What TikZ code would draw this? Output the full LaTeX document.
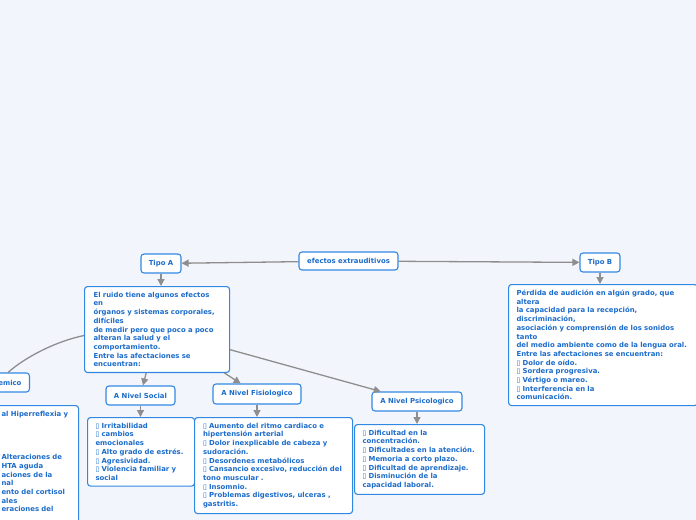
\documentclass[tikz,border=0pt]{standalone}
\usepackage{fontspec}
\setmainfont{DejaVu Sans}
\newfontfamily\symfont{DejaVu Sans}
\usetikzlibrary{arrows.meta}
\definecolor{bgc}{HTML}{F3F5FC}
\definecolor{txtc}{HTML}{1C6CCB}
\definecolor{bordc}{HTML}{3188E3}
\definecolor{connc}{HTML}{8E8E8E}
\newcommand{\bxg}{{\symfont\mdseries ▯}}
\begin{document}
\begin{tikzpicture}[x=1bp,y=-1bp,
  lbl/.style={draw=bordc, line width=1.1bp, fill=white, rounded corners=3bp, text=txtc,
    font=\fontsize{6.9bp}{8.7bp}\selectfont\bfseries, inner sep=0pt},
  desc/.style={lbl, anchor=north west, align=left, inner xsep=8bp, inner ysep=5.5bp},
  conn/.style={draw=connc, line width=1.3bp, -{Triangle[length=7bp,width=7bp]}},
  connplain/.style={draw=connc, line width=1.3bp}
]
\fill[bgc] (0,0) rectangle (696,520);
\useasboundingbox (0,0) rectangle (696,520);

% top level
\node[lbl, minimum width=99bp, minimum height=18bp] (root) at (348.5,261) {efectos extrauditivos};
\node[lbl, minimum width=40bp, minimum height=19bp] (tipoA) at (161,263.5) {Tipo A};
\node[lbl, minimum width=40bp, minimum height=19bp] (tipoB) at (600,262.5) {Tipo B};

% descriptions
\node[desc, inner xsep=9bp, text width=127bp] (descA) at (84,286) {El ruido tiene algunos efectos\\ en\\ órganos y sistemas corporales,\\ difíciles\\ de medir pero que poco a poco\\ alteran la salud y el\\ comportamiento.\\ Entre las afectaciones se\\ encuentran:};

\node[desc, text width=173bp] (descB) at (508,284) {Pérdida de audición en algún grado, que\\ altera\\ la capacidad para la recepción,\\ discriminación,\\ asociación y comprensión de los sonidos\\ tanto\\ del medio ambiente como de la lengua oral.\\ Entre las afectaciones se encuentran:\\ \bxg{} Dolor de oído.\\ \bxg{} Sordera progresiva.\\ \bxg{} Vértigo o mareo.\\ \bxg{} Interferencia en la\\ comunicación.};

% second level labels
\node[lbl, anchor=east, align=right, text width=60bp, inner xsep=8bp, minimum height=19bp] (sist) at (30,382.5) {emico};
\node[lbl, minimum width=69bp, minimum height=19bp] (social) at (140.5,395.5) {A Nivel Social};
\node[lbl, minimum width=88bp, minimum height=20bp] (fisio) at (257,394) {A Nivel Fisiologico};
\node[lbl, minimum width=90bp, minimum height=19bp] (psico) at (417,401.5) {A Nivel Psicologico};

% second level descriptions
\node[desc, inner xsep=9bp, text width=68bp] (descS) at (-8,405) {al Hiperreflexia y\\ \mbox{}\\ \mbox{}\\ \mbox{}\\ \mbox{}\\ Alteraciones de\\ HTA aguda\\ aciones de la\\ nal\\ ento del cortisol\\ ales\\ eraciones del\\ \mbox{}\\ \mbox{}\\ \mbox{}};

\node[desc, text width=91bp] (descSoc) at (87,417) {\bxg{} Irritabilidad\\ \bxg{} cambios\\ emocionales\\ \bxg{} Alto grado de estrés.\\ \bxg{} Agresividad.\\ \bxg{} Violencia familiar y\\ social};

\node[desc, inner xsep=8.5bp, text width=141bp] (descFis) at (194,417) {\bxg{} Aumento del ritmo cardiaco e\\ hipertensión arterial\\ \bxg{} Dolor inexplicable de cabeza y\\ sudoración.\\ \bxg{} Desordenes metabólicos\\ \bxg{} Cansancio excesivo, reducción del\\ tono muscular .\\ \bxg{} Insomnio.\\ \bxg{} Problemas digestivos, ulceras ,\\ gastritis.};

\node[desc, text width=114bp] (descPsi) at (354,424) {\bxg{} Dificultad en la\\ concentración.\\ \bxg{} Dificultades en la atención.\\ \bxg{} Memoria a corto plazo.\\ \bxg{} Dificultad de aprendizaje.\\ \bxg{} Disminución de la\\ capacidad laboral.};

% connectors
\draw[conn] (root) -- (tipoA);
\draw[conn] (root) -- (tipoB);
\draw[conn] (tipoA) -- (tipoA |- descA.north);
\draw[conn] (tipoB) -- (tipoB |- descB.north);
\draw[conn] (descA) -- (social);
\draw[conn] (descA) -- (fisio);
\draw[conn] (descA) -- (psico);
\draw[connplain] ([yshift=-6bp]descA.west) .. controls +(-29,6) and +(17,-15) .. ([xshift=-22bp]sist.north east);
\draw[conn] (social) -- (social |- descSoc.north);
\draw[conn] (fisio) -- (fisio |- descFis.north);
\draw[conn] (psico) -- (psico |- descPsi.north);
\end{tikzpicture}
\end{document}
